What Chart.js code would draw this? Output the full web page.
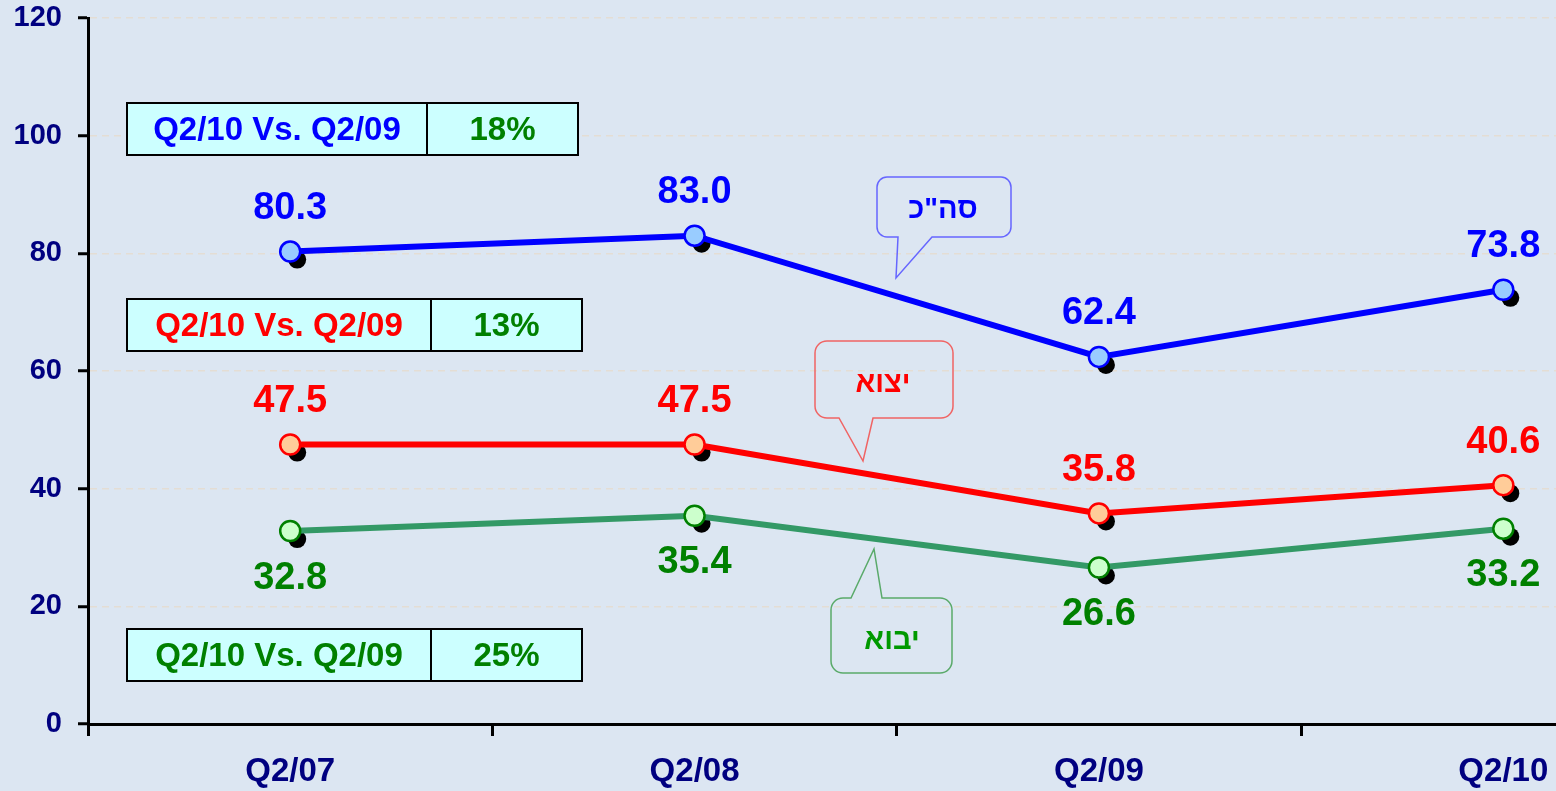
<!DOCTYPE html>
<html>
<head>
<meta charset="utf-8">
<script src="https://cdn.jsdelivr.net/npm/chart.js@4.4.0/dist/chart.umd.min.js"></script>
<style>
    html, body { margin: 0; padding: 0; overflow: hidden; background: #dce6f2; }
    canvas { display: block; }
</style>
</head>
<body>
<canvas id="myChart" width="1718" height="791"></canvas>
<script>
// chart data
const quarters = ['Q2/07', 'Q2/08', 'Q2/09', 'Q2/10'];
const totalValues = [80.3, 83.0, 62.4, 73.8];
const exportValues = [47.5, 47.5, 35.8, 40.6];
const importValues = [32.8, 35.4, 26.6, 33.2];
const seriesNames = ['סה"כ', 'יצוא', 'יבוא'];
const compareLabel = 'Q2/10 Vs. Q2/09';
const growthValues = ['18%', '13%', '25%'];

const FONT = 'Arial, "Liberation Sans", sans-serif';

// black drop shadow under every marker
const markerShadow = {
    id: 'markerShadow',
    beforeDatasetsDraw(chart) {
        const ctx = chart.ctx;
        ctx.save();
        ctx.fillStyle = '#000';
        chart.data.datasets.forEach((ds, i) => {
            chart.getDatasetMeta(i).data.forEach(pt => {
                ctx.beginPath();
                ctx.arc(pt.x + 7, pt.y + 8, 9, 0, Math.PI * 2);
                ctx.fill();
            });
        });
        ctx.restore();
    }
};

// value labels above / below the points
const valueLabels = {
    id: 'valueLabels',
    afterDatasetsDraw(chart) {
        const ctx = chart.ctx;
        ctx.save();
        ctx.font = 'bold 38px ' + FONT;
        ctx.textAlign = 'center';
        ctx.textBaseline = 'middle';
        chart.data.datasets.forEach((ds, i) => {
            ctx.fillStyle = ds.labelColor;
            chart.getDatasetMeta(i).data.forEach((pt, j) => {
                ctx.fillText(ds.data[j].toFixed(1), pt.x, pt.y + ds.labelOffset);
            });
        });
        ctx.restore();
    }
};

function callout(ctx, b) {
    const { x0, y0, x1, y1, r, tail } = b;
    ctx.beginPath();
    ctx.moveTo(x0 + r, y0);
    if (tail.side === 'top') {
        ctx.lineTo(tail.a, y0);
        ctx.lineTo(tail.tx, tail.ty);
        ctx.lineTo(tail.b, y0);
    }
    ctx.lineTo(x1 - r, y0);
    ctx.arcTo(x1, y0, x1, y0 + r, r);
    ctx.lineTo(x1, y1 - r);
    ctx.arcTo(x1, y1, x1 - r, y1, r);
    if (tail.side === 'bottom') {
        ctx.lineTo(tail.b, y1);
        ctx.lineTo(tail.tx, tail.ty);
        ctx.lineTo(tail.a, y1);
    }
    ctx.lineTo(x0 + r, y1);
    ctx.arcTo(x0, y1, x0, y1 - r, r);
    ctx.lineTo(x0, y0 + r);
    ctx.arcTo(x0, y0, x0 + r, y0, r);
    ctx.closePath();
    ctx.lineWidth = 1.5;
    ctx.strokeStyle = b.border;
    ctx.stroke();
    ctx.fillStyle = b.color;
    ctx.font = 'bold 29px ' + FONT;
    ctx.textAlign = 'center';
    ctx.textBaseline = 'middle';
    ctx.fillText(b.text, b.cx, b.cy);
}

// comparison boxes and name callouts
const annotations = {
    id: 'annotations',
    afterDraw(chart) {
        const ctx = chart.ctx;
        ctx.save();
        const boxes = [
            { x0: 127, x1: 578, mid: 427, y0: 103, y1: 155, color: '#0000ff', pct: growthValues[0] },
            { x0: 127, x1: 582, mid: 431, y0: 299, y1: 351, color: '#ff0000', pct: growthValues[1] },
            { x0: 127, x1: 582, mid: 431, y0: 629, y1: 681, color: '#008000', pct: growthValues[2] }
        ];
        ctx.font = 'bold 33px ' + FONT;
        ctx.textAlign = 'center';
        ctx.textBaseline = 'middle';
        boxes.forEach(b => {
            ctx.fillStyle = '#ccffff';
            ctx.fillRect(b.x0, b.y0, b.x1 - b.x0, b.y1 - b.y0);
            ctx.lineWidth = 2;
            ctx.strokeStyle = '#000';
            ctx.strokeRect(b.x0, b.y0, b.x1 - b.x0, b.y1 - b.y0);
            ctx.beginPath();
            ctx.moveTo(b.mid, b.y0);
            ctx.lineTo(b.mid, b.y1);
            ctx.stroke();
            const cy = (b.y0 + b.y1) / 2 + 2;
            ctx.fillStyle = b.color;
            ctx.fillText(compareLabel, (b.x0 + b.mid) / 2, cy);
            ctx.fillStyle = '#008000';
            ctx.fillText(b.pct, (b.mid + b.x1) / 2, cy);
        });

        callout(ctx, { x0: 877, x1: 1011, y0: 177, y1: 237, r: 10, border: '#6666ff', color: '#0000ff',
            text: seriesNames[0], cx: 943, cy: 210, tail: { side: 'bottom', a: 898, b: 932, tx: 896, ty: 278 } });
        callout(ctx, { x0: 815, x1: 953, y0: 341, y1: 418, r: 12, border: '#f06464', color: '#ff0000',
            text: seriesNames[1], cx: 883, cy: 384, tail: { side: 'bottom', a: 839, b: 873, tx: 863, ty: 461 } });
        callout(ctx, { x0: 831, x1: 952, y0: 598, y1: 673, r: 12, border: '#5aaa6a', color: '#009900',
            text: seriesNames[2], cx: 892, cy: 641, tail: { side: 'top', a: 851, b: 882, tx: 874, ty: 549 } });
        ctx.restore();
    }
};

const ctx = document.getElementById('myChart').getContext('2d');
const myChart = new Chart(ctx, {
    type: 'line',
    data: {
        labels: quarters,
        datasets: [
            {
                label: seriesNames[0],
                data: totalValues,
                borderColor: '#0000ff',
                pointBackgroundColor: '#99ccff',
                pointBorderColor: '#0000ff',
                labelColor: '#0000ff',
                labelOffset: -43
            },
            {
                label: seriesNames[1],
                data: exportValues,
                borderColor: '#ff0000',
                pointBackgroundColor: '#ffcc99',
                pointBorderColor: '#ff0000',
                labelColor: '#ff0000',
                labelOffset: -43
            },
            {
                label: seriesNames[2],
                data: importValues,
                borderColor: '#339966',
                pointBackgroundColor: '#ccffcc',
                pointBorderColor: '#008000',
                labelColor: '#008000',
                labelOffset: 47
            }
        ]
    },
    options: {
        responsive: false,
        animation: false,
        devicePixelRatio: 1,
        layout: { padding: { top: 18, right: 6, left: 0, bottom: 0 } },
        elements: {
            line: { borderWidth: 6, tension: 0 },
            point: { radius: 10, borderWidth: 2.5, hoverRadius: 10 }
        },
        scales: {
            x: {
                offset: true,
                afterFit: scale => { scale.height = 67; },
                grid: {
                    offset: true,
                    drawOnChartArea: false,
                    drawTicks: true,
                    tickLength: 12,
                    tickWidth: 3,
                    tickColor: '#000'
                },
                border: { color: '#000', width: 3 },
                ticks: {
                    color: '#000080',
                    padding: 16,
                    maxRotation: 0,
                    font: { family: FONT, size: 33, weight: 'bold' }
                }
            },
            y: {
                min: 0,
                max: 120,
                afterFit: scale => {
                    scale.width = 88;
                    scale.paddingTop = 0;
                    scale.paddingBottom = 0;
                },
                grid: {
                    color: '#e4ddd4',
                    lineWidth: 1.5,
                    tickLength: 10,
                    tickWidth: 3,
                    tickColor: '#000'
                },
                border: { color: '#000', width: 3, dash: [7, 5] },
                ticks: {
                    stepSize: 20,
                    color: '#000080',
                    padding: 16,
                    font: { family: FONT, size: 29, weight: 'bold' }
                }
            }
        },
        plugins: {
            legend: { display: false },
            tooltip: { enabled: false }
        }
    },
    plugins: [markerShadow, valueLabels, annotations]
});
</script>
</body>
</html>
